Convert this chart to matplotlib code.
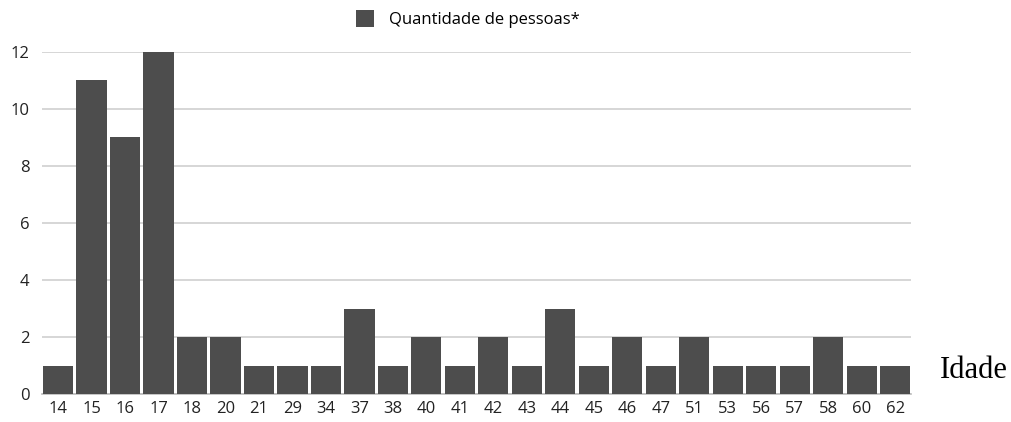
import matplotlib
matplotlib.use("Agg")
import matplotlib.pyplot as plt
import numpy as np

idades = ["14", "15", "16", "17", "18", "20", "21", "29", "34", "37", "38", "40", "41",
          "42", "43", "44", "45", "46", "47", "51", "53", "56", "57", "58", "60", "62"]
quantidade = [1, 11, 9, 12, 2, 2, 1, 1, 1, 3, 1, 2, 1, 2, 1, 3, 1, 2, 1, 2, 1, 1, 1, 2, 1, 1]
y_ticks = [0, 2, 4, 6, 8, 10, 12]

plt.rcParams['font.family'] = ['Open Sans', 'DejaVu Sans']

fig = plt.figure(figsize=(10.12, 4.22), dpi=100)
ax = fig.add_axes([0.0415, 0.066, 0.859, 0.811])

x = np.arange(len(idades))
ax.bar(x, quantidade, width=0.9, color="#4d4d4d", label="Quantidade de pessoas*", zorder=3)

ax.set_xlim(-0.48, len(idades) - 0.52)
ax.set_ylim(0, 12)
ax.set_yticks(y_ticks)
ax.set_xticks(x)
ax.set_xticklabels(idades)
ax.tick_params(axis='both', length=0, labelsize=12, colors="#222222")
ax.tick_params(axis='x', pad=5)
ax.tick_params(axis='y', pad=9)
ax.yaxis.grid(True, color="#d0d0d0", linewidth=1.2, zorder=0)
for s in ["top", "right", "left"]:
    ax.spines[s].set_visible(False)
ax.spines["bottom"].set_color("#bbbbbb")
ax.spines["bottom"].set_linewidth(1.2)

leg = ax.legend(loc="lower center", bbox_to_anchor=(0.49, 1.025), frameon=False,
                fontsize=12, handlelength=1.1, handleheight=1.2, handletextpad=0.9)

fig.text(0.929, 0.105, "Idade", fontsize=22, family=["Liberation Serif", "DejaVu Serif"],
         ha="left", va="baseline", color="black")

fig.savefig("out.png", dpi=100)
